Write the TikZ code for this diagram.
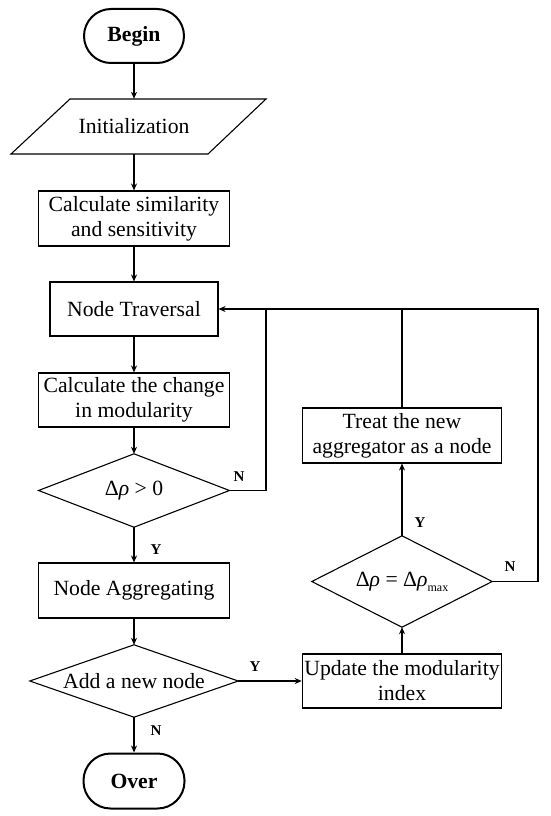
\documentclass[tikz,border=0pt]{standalone}
\usepackage{fontspec}
\setmainfont{Liberation Serif}
\usetikzlibrary{arrows.meta}
\begin{document}
\begin{tikzpicture}[x=1pt,y=-1pt,
  txt/.style={font=\fontsize{21.7}{25}\selectfont, align=center, text=black},
  box/.style={txt, draw, line width=1.1pt, minimum width=191.5pt, minimum height=55pt, inner sep=1pt},
  term/.style={draw, line width=2pt, rounded corners=27pt, minimum width=100pt, minimum height=54pt, font=\fontsize{21.7}{25}\selectfont\bfseries},
  dtext/.style={txt, inner sep=0pt},
  lab/.style={font=\fontsize{15}{15}\selectfont\bfseries, inner sep=0pt},
  arr/.style={-{Stealth[length=7pt,width=6pt]}, line width=1.1pt},
  ln/.style={line width=1.1pt}]
\useasboundingbox (0,0) rectangle (550,816);

% left column
\node[term] (begin) at (134,36) {Begin};
\node[txt, minimum width=150pt, minimum height=55pt, inner sep=0pt] (init) at (134,126.5) {Initialization};
\draw[ln] (70,99) -- (266,99) -- (208,154) -- (11,154) -- cycle;
\node[box] (calcsim) at (134,218.5) {Calculate similarity\\and sensitivity};
\node[box, minimum width=168pt, minimum height=54pt] (trav) at (134,309) {Node Traversal};
\node[box, minimum height=54pt] (calcchange) at (134,400) {Calculate the change\\in modularity};
\node[dtext, minimum width=190.5pt, minimum height=73pt] (d1) at (134,490.5) {Δ\textit{ρ} > 0};
\draw[ln] (d1.north) -- (d1.east) -- (d1.south) -- (d1.west) -- cycle;
\node[box] (agg) at (134,590.5) {Node Aggregating};
\node[dtext, minimum width=208pt, minimum height=72pt] (d2) at (134,681) {Add a new node};
\draw[ln] (d2.north) -- (d2.east) -- (d2.south) -- (d2.west) -- cycle;
\node[term, minimum width=101pt, minimum height=55pt] (over) at (134,781) {Over};

% right column
\node[box, minimum width=199.5pt, minimum height=54pt] (update) at (402,681) {Update the modularity\\index};
\node[dtext, minimum width=180pt, minimum height=91pt] (d3) at (402,581.5) {Δ\textit{ρ} = Δ\textit{ρ}\raisebox{-5pt}{\fontsize{12}{12}\selectfont max}};
\draw[ln] (d3.north) -- (d3.east) -- (d3.south) -- (d3.west) -- cycle;
\node[box, minimum width=199.5pt] (treat) at (402,435.5) {Treat the new\\aggregator as a node};

\coordinate (lp) at (266,309);
\coordinate (rt) at (538,309);

% connectors
\draw[arr] (begin) -- (init);
\draw[arr] (init) -- (calcsim);
\draw[arr] (calcsim) -- (trav);
\draw[arr] (trav) -- (calcchange);
\draw[arr] (calcchange) -- (d1.north);
\draw[arr] (d1.south) -- (agg);
\draw[arr] (agg) -- (d2.north);
\draw[arr] (d2.south) -- (over);
\draw[arr] (d2.east) -- (update);
\draw[arr] (update) -- (d3.south);
\draw[arr] (d3.north) -- (treat);
\draw[arr] (d3.east) -| (rt) -- (trav.east);
\draw[ln] (d1.east) -| (lp);
\draw[ln] (treat.north) -- (treat.north |- rt);

% labels
\node[lab] (ly1) at (156,550) {Y};
\node[lab] (ln1) at (239,477) {N};
\node[lab] (ly2) at (255,667) {Y};
\node[lab] (ln2) at (156,731) {N};
\node[lab] (ly3) at (420,523) {Y};
\node[lab] (ln3) at (510,567) {N};
\end{tikzpicture}
\end{document}
